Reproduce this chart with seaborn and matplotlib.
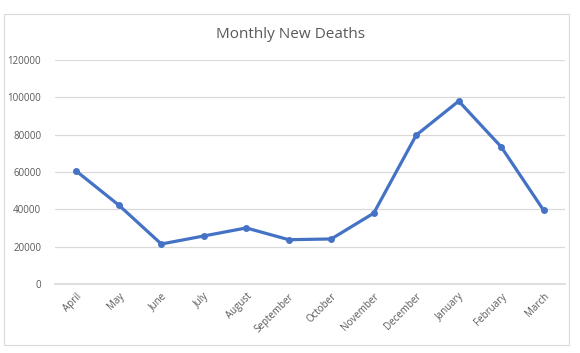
import pandas as pd
import seaborn as sns
import matplotlib.pyplot as plt
from matplotlib.patches import Rectangle

# Data
months = ["April", "May", "June", "July", "August", "September", "October",
          "November", "December", "January", "February", "March"]
deaths = [60500, 42300, 21500, 25800, 30100, 23800, 24200,
          38000, 79800, 98000, 73500, 39500]
y_ticks = [0, 20000, 40000, 60000, 80000, 100000, 120000]

df = pd.DataFrame({"Month": months, "Deaths": deaths})

sns.set_theme(style="white")
plt.rcParams["font.family"] = ["Open Sans", "DejaVu Sans"]

grey_text = "#595959"
grid_col = "#D9D9D9"

fig = plt.figure(figsize=(5.8, 3.53), dpi=100)
fig.patch.set_facecolor("white")

# outer chart border
fig.add_artist(Rectangle((4 / 580, 1 - 345 / 353), 565 / 580, 331 / 353,
                         transform=fig.transFigure, fill=False,
                         edgecolor=grid_col, linewidth=0.8))

ax = fig.add_axes([0.095, 0.195, 0.879, 0.635])
sns.lineplot(data=df, x="Month", y="Deaths", ax=ax, sort=False,
             color="#4472C4", linewidth=2.3, marker="o", markersize=5,
             markeredgewidth=0)

ax.set_ylim(0, 120000)
ax.set_yticks(y_ticks)
ax.set_yticklabels([str(v) for v in y_ticks])
ax.set_xlim(-0.5, len(months) - 0.5)
ax.set_xlabel("")
ax.set_ylabel("")
ax.grid(axis="y", color=grid_col, linewidth=0.9)
ax.set_axisbelow(True)
for s in ax.spines.values():
    s.set_visible(False)
ax.spines["bottom"].set_visible(True)
ax.spines["bottom"].set_color(grid_col)

ax.tick_params(axis="both", length=0, labelsize=7, labelcolor=grey_text)
ax.tick_params(axis="y", pad=10)
ax.tick_params(axis="x", pad=5)
plt.setp(ax.get_xticklabels(), rotation=45, ha="right", rotation_mode="anchor")

fig.text(0.5, 1 - 35 / 353, "Monthly New Deaths", ha="center", va="center",
         fontsize=11, color=grey_text)

fig.savefig("out.png", dpi=100)
